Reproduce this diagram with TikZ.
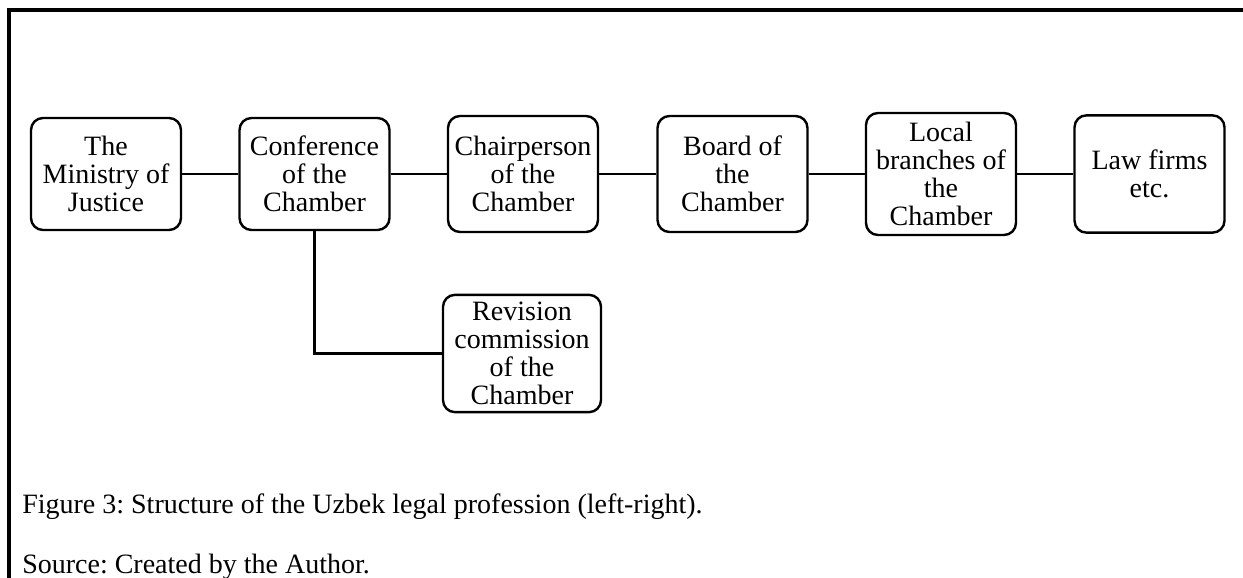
\documentclass[tikz,border=0pt]{standalone}
\usepackage{fontspec}
\setmainfont{Liberation Serif}
\usepackage{tikz}
\usetikzlibrary{positioning}
\frenchspacing

\begin{document}
\begin{tikzpicture}[x=0.75pt, y=-0.75pt,
        box/.style={draw=black, line width=1.8pt, rounded corners=9pt, minimum width=112.5pt, minimum height=84pt, inner xsep=4pt, inner ysep=3pt, align=center, font=\fontsize{21pt}{21pt}\selectfont},
        link/.style={draw=black, line width=1.7pt},
        caption/.style={anchor=base west, inner sep=0pt, font=\fontsize{21pt}{22pt}\selectfont}]
        \pgfmathsetmacro{\rowy}{174}
        \useasboundingbox (0,0) rectangle (1243,578);
        \draw [line width=2.5pt] (9,578) -- (9,10) -- (1243,10);
        \node [box] (ministry) at (106,\rowy) {The\\Ministry of\\Justice};
        \node [box] (conference) at (314.5,\rowy) {Conference\\of the\\Chamber};
        \node [box, minimum height=87pt] (chair) at (523,\rowy) {Chairperson\\of the\\Chamber};
        \node [box, minimum height=87pt] (board) at (732.5,\rowy) {Board of\\the\\Chamber};
        \node [box, minimum height=91.5pt] (local) at (941,\rowy) {Local\\branches of\\the\\Chamber};
        \node [box, minimum height=88pt] (firms) at (1149.5,\rowy) {Law firms\\etc.};
        \node [box, minimum width=118.5pt, minimum height=88pt] (revision) at (522,353.5) {Revision\\commission\\of the\\Chamber};
        \foreach \a/\b in {ministry/conference, conference/chair, chair/board, board/local, local/firms}
            \draw [link] (\a) -- (\b);
        \draw [link] (conference.south) |- (revision.west);
        \node [caption] (figcap) at (22,513) {Figure 3: Structure of the Uzbek legal profession (left-right).};
        \node [caption] (source) at (22,573) {Source: Created by the Author.};
    \end{tikzpicture}
\end{document}
